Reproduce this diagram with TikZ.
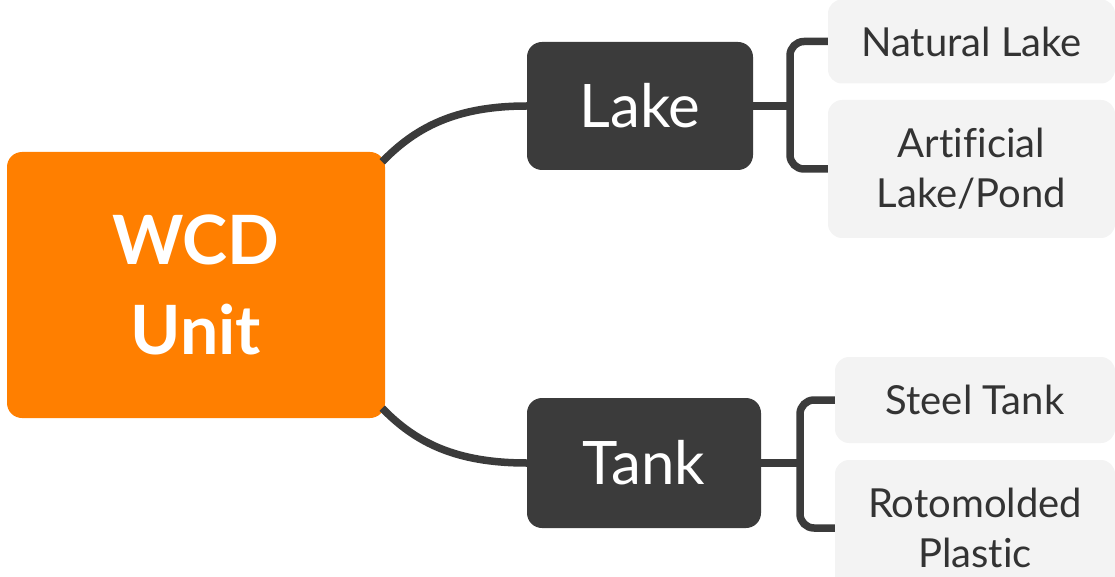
\documentclass[tikz,border=0pt]{standalone}
\usepackage{fontspec}
\setmainfont{Lato}[Ligatures=CommonOff]
\usetikzlibrary{positioning}
\definecolor{wcdorange}{HTML}{FF7F00}
\definecolor{darkbox}{HTML}{3B3B3B}
\definecolor{leafgray}{HTML}{F3F3F3}
\definecolor{leaftext}{HTML}{333333}
\tikzset{
  rootbox/.style={rectangle, rounded corners=15pt, fill=wcdorange, text=white, align=center, font=\fontsize{68}{90}\selectfont\bfseries, inner sep=0pt},
  mainbox/.style={rectangle, rounded corners=15pt, fill=darkbox, text=white, align=center, font=\fontsize{60}{70}\selectfont, inner sep=0pt},
  leaf/.style={rectangle, rounded corners=14pt, fill=leafgray, text=leaftext, align=center, font=\fontsize{40}{50}\selectfont, inner sep=0pt},
  conn/.style={draw=darkbox, line width=7.5pt},
}

\begin{document}
\begin{tikzpicture}[x=1pt, y=-1pt]
\useasboundingbox (0,0) rectangle (1115,577);

\node[rootbox, minimum width=378pt, minimum height=266pt] (root) at (196,285) {WCD\\Unit};
\node[mainbox, minimum width=226pt, minimum height=128pt] (lake) at (640,106) {Lake};
\node[mainbox, minimum width=234pt, minimum height=130pt] (tank) at (644,463) {Tank};

\node[leaf, minimum width=287pt, minimum height=84pt] (natural) at (971.5,41.5) {Natural Lake};
\node[leaf, minimum width=287pt, minimum height=138pt] (artificial) at (971.5,169) {Artificial\\Lake/Pond};
\node[leaf, minimum width=280pt, minimum height=86pt] (steel) at (975,400) {Steel Tank};
\node[leaf, minimum width=280pt, minimum height=136pt] (roto) at (975,528) {Rotomolded\\Plastic};

\coordinate (lakejoint) at (790,106);
\coordinate (tankjoint) at (800,463);

% root to the two branches
\draw[conn] ([shift={(-3,10)}]root.north east) .. controls (415,128) and (455,106) .. (lake.west);
\draw[conn] ([shift={(-3,-10)}]root.south east) .. controls (415,442) and (455,463) .. (tank.west);

% brackets
\draw[conn] (lake.east) -- (lakejoint);
\draw[conn, rounded corners=14pt] (natural.west) -| (lakejoint) |- (artificial.west);
\draw[conn] (tank.east) -- (tankjoint);
\draw[conn, rounded corners=14pt] (steel.west) -| (tankjoint) |- (roto.west);
\end{tikzpicture}
\end{document}
